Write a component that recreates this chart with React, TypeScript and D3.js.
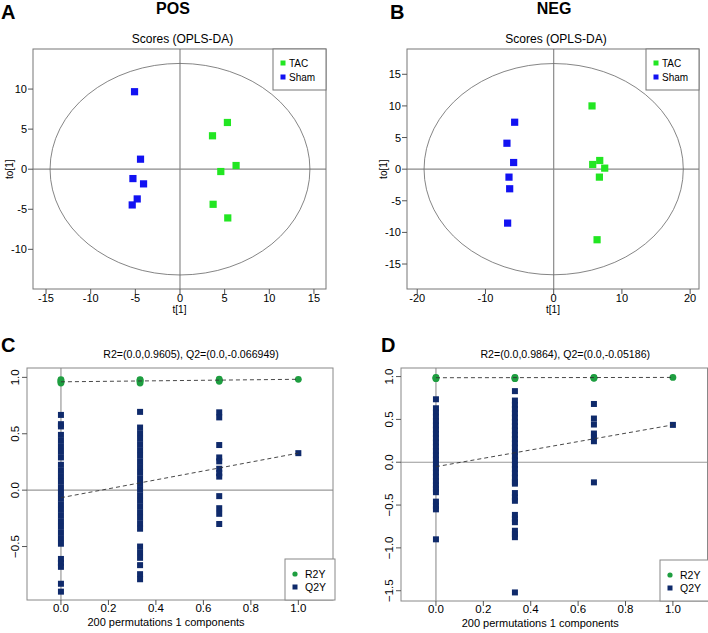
import React from 'react';
import * as d3 from 'd3';

// ---- score plot data (OPLS-DA) ----
const groups = ['TAC', 'Sham'];
const groupColors = ['#22e622', '#1212f2'];

const posTacT = [5.31, 3.64, 6.28, 4.57, 3.71, 5.35];
const posTacTo = [5.83, 4.17, 0.46, -0.29, -4.38, -6.08];
const posShamT = [-5.09, -4.42, -5.27, -4.08, -4.79, -5.35];
const posShamTo = [9.67, 1.25, -1.17, -1.83, -3.71, -4.46];

const negTacT = [5.62, 5.72, 6.75, 7.48, 6.7, 6.36];
const negTacTo = [10.0, 0.74, 1.37, 0.16, -1.26, -11.16];
const negShamT = [-5.72, -6.85, -5.87, -6.55, -6.45, -6.75];
const negShamTo = [7.42, 4.1, 1.05, -1.26, -3.1, -8.53];

const posEllipse = [14.55, 13.2];
const negEllipse = [19.0, 16.7];

const posTicksX = [-15, -10, -5, 0, 5, 10, 15];
const posTicksY = [-10, -5, 0, 5, 10];
const negTicksX = [-20, -10, 0, 10, 20];
const negTicksY = [-15, -10, -5, 0, 5, 10, 15];

// ---- permutation test data ----
const permLegend = ['R2Y', 'Q2Y'];
const permX = [0, 0.3333, 0.6667];
const permTicksX = [0, 0.2, 0.4, 0.6, 0.8, 1.0];

const posR2 = [
    [0.95, 0.96, 0.97, 0.98],
    [0.95, 0.965, 0.975, 0.98],
    [0.965, 0.975, 0.985]
];
const posQ2 = [
    [0.667, 0.585, 0.565, 0.49, 0.44, 0.39, 0.34, 0.29, 0.225, 0.175, 0.125, 0.075, 0.025, -0.025, -0.075, -0.125,
        -0.175, -0.225, -0.275, -0.325, -0.375, -0.425, -0.475, -0.61, -0.645, -0.68, -0.83, -0.9],
    [0.694, 0.555, 0.505, 0.455, 0.405, 0.355, 0.305, 0.255, 0.205, 0.155, 0.105, 0.055, 0.005, -0.045, -0.095,
        -0.145, -0.195, -0.245, -0.295, -0.342, -0.5, -0.55, -0.6, -0.665, -0.745, -0.79],
    [0.69, 0.645, 0.4, 0.29, 0.255, 0.19, 0.15, 0.12, -0.053, -0.16, -0.21, -0.3]
];
const posOrig = [0.983, 0.328];
const posIntercept = [0.9605, -0.066949];
const posPermTicksY = [-0.5, 0, 0.5, 1.0];

const negR2 = [
    [0.975, 0.985, 0.99],
    [0.975, 0.985, 0.99],
    [0.98, 0.985, 0.99]
];
const negQ2 = [
    [0.735, 0.63, 0.58, 0.53, 0.48, 0.43, 0.38, 0.33, 0.28, 0.23, 0.18, 0.13, 0.08, 0.03, -0.02, -0.07, -0.12, -0.17,
        -0.22, -0.27, -0.31, -0.35, -0.46, -0.51, -0.55, -0.9],
    [0.83, 0.72, 0.67, 0.62, 0.57, 0.52, 0.47, 0.42, 0.37, 0.32, 0.27, 0.22, 0.17, 0.12, 0.07, 0.02, -0.03, -0.08,
        -0.13, -0.18, -0.23, -0.25, -0.36, -0.41, -0.45, -0.615, -0.66, -0.7, -0.8, -0.84, -0.875, -1.52],
    [0.68, 0.51, 0.44, 0.335, 0.29, 0.245, -0.235]
];
const negOrig = [0.99, 0.436];
const negIntercept = [0.9864, -0.05186];
const negPermTicksY = [-1.5, -1.0, -0.5, 0, 0.5, 1.0];

const font = 'Liberation Sans, Arial, sans-serif';
const fmt = d3.format('.1f');

function ScorePlot(props)
{
    const { box, xDomain, yDomain, series, ellipse, ticksX, ticksY } = props;
    const x = d3.scaleLinear().domain(xDomain).range([box.left, box.right]);
    const y = d3.scaleLinear().domain(yDomain).range([box.bottom, box.top]);
    const cx = x(0), cy = y(0);
    const lx = box.right - 53;

    return (
        <g fontFamily={font}>
            <text x={(box.left + box.right) / 2 + 3} y={box.top - 6.5} fontSize={12} textAnchor="middle">Scores (OPLS-DA)</text>
            {/* zero lines */}
            <line x1={box.left} x2={box.right} y1={cy} y2={cy} stroke="#8a8a8a" strokeWidth={1.2} />
            <line x1={cx} x2={cx} y1={box.top} y2={box.bottom} stroke="#8a8a8a" strokeWidth={1.2} />
            <ellipse cx={cx} cy={cy} rx={x(ellipse[0]) - cx} ry={cy - y(ellipse[1])} fill="none" stroke="#666" strokeWidth={0.8} />
            {series.map((s, gi) => s.t.map((t, i) =>
                <rect key={gi + '-' + i} x={x(t) - 3.6} y={y(s.to[i]) - 3.6} width={7.2} height={7.2} fill={groupColors[gi]} />
            ))}
            <rect x={box.left} y={box.top} width={box.right - box.left} height={box.bottom - box.top} fill="none" stroke="#777" strokeWidth={1} />
            {/* legend */}
            <rect x={lx} y={box.top} width={53} height={41} fill="#fff" stroke="#777" strokeWidth={1} />
            {groups.map((g, i) =>
                <g key={g}>
                    <rect x={lx + 7.5} y={box.top + 11.5 + i * 14} width={5} height={5} fill={groupColors[i]} />
                    <text x={lx + 16} y={box.top + 17.5 + i * 14} fontSize={10}>{g}</text>
                </g>
            )}
            {/* axes */}
            {ticksX.map(v =>
                <g key={'x' + v}>
                    <line x1={x(v)} x2={x(v)} y1={box.bottom} y2={box.bottom + 5} stroke="#555" />
                    <text x={x(v)} y={box.bottom + 13} fontSize={11} textAnchor="middle">{v}</text>
                </g>
            )}
            {ticksY.map(v =>
                <g key={'y' + v}>
                    <line x1={box.left - 5} x2={box.left} y1={y(v)} y2={y(v)} stroke="#555" />
                    <text x={box.left - 6} y={y(v) + 4} fontSize={11} textAnchor="end">{v}</text>
                </g>
            )}
            <text x={(box.left + box.right) / 2} y={box.bottom + 24} fontSize={10} textAnchor="middle">t[1]</text>
            <text transform={`translate(${box.left - 20},${cy}) rotate(-90)`} fontSize={10} textAnchor="middle">to[1]</text>
        </g>
    );
}

function PermPlot(props)
{
    const { box, xDomain, yDomain, r2, q2, orig, intercept, ticksY, title, legendX } = props;
    const x = d3.scaleLinear().domain(xDomain).range([box.left, box.right]);
    const y = d3.scaleLinear().domain(yDomain).range([box.bottom, box.top]);
    const navy = '#0f2a6b';
    const green = '#1e9e40';

    return (
        <g fontFamily={font}>
            <text x={(box.left + box.right) / 2 + 11} y={box.top - 10.5} fontSize={10.6} textAnchor="middle">{title}</text>
            <line x1={box.left} x2={box.right} y1={y(0)} y2={y(0)} stroke="#999" strokeWidth={1.2} />
            <line x1={x(0)} x2={x(0)} y1={box.top} y2={box.bottom} stroke="#999" strokeWidth={1.2} />
            {q2.map((col, ci) => col.map((v, i) =>
                <rect key={'q' + ci + '-' + i} x={x(permX[ci]) - 3} y={y(v) - 3} width={6} height={6} fill={navy} />
            ))}
            <rect x={x(1) - 3} y={y(orig[1]) - 3} width={6} height={6} fill={navy} />
            {r2.map((col, ci) => col.map((v, i) =>
                <circle key={'r' + ci + '-' + i} cx={x(permX[ci])} cy={y(v)} r={3.4} fill={green} />
            ))}
            <circle cx={x(1)} cy={y(orig[0])} r={3.4} fill={green} />
            {/* regression lines */}
            <line x1={x(0)} x2={x(1)} y1={y(intercept[0])} y2={y(orig[0])} stroke="#333" strokeWidth={0.9} strokeDasharray="4,3" />
            <line x1={x(0)} x2={x(1)} y1={y(intercept[1])} y2={y(orig[1])} stroke="#333" strokeWidth={0.9} strokeDasharray="4,3" />
            <rect x={box.left} y={box.top} width={box.right - box.left} height={box.bottom - box.top} fill="none" stroke="#888" strokeWidth={1} />
            {/* legend */}
            <rect x={legendX} y={box.bottom - 41} width={box.right - legendX + 2} height={41} fill="#fff" stroke="#888" strokeWidth={1} />
            <circle cx={legendX + 10} cy={box.bottom - 26} r={2.6} fill={green} />
            <rect x={legendX + 7.5} y={box.bottom - 15.5} width={5} height={5} fill={navy} />
            {permLegend.map((l, i) =>
                <text key={l} x={legendX + 20} y={box.bottom - 22 + i * 13} fontSize={10.5}>{l}</text>
            )}
            {permTicksX.map(v =>
                <g key={'x' + v}>
                    <line x1={x(v)} x2={x(v)} y1={box.bottom} y2={box.bottom + 5} stroke="#555" />
                    <text x={x(v)} y={box.bottom + 12} fontSize={11.5} textAnchor="middle">{fmt(v)}</text>
                </g>
            )}
            {ticksY.map(v =>
                <g key={'y' + v}>
                    <line x1={box.left - 5} x2={box.left} y1={y(v)} y2={y(v)} stroke="#555" />
                    <text transform={`translate(${box.left - 8},${y(v)}) rotate(-90)`} fontSize={11.5} textAnchor="middle">{fmt(v)}</text>
                </g>
            )}
            <text x={(box.left + box.right) / 2 - 14} y={box.bottom + 26} fontSize={11} textAnchor="middle">200 permutations 1 components</text>
        </g>
    );
}

export default function App()
{
    return (
        <svg width={708} height={633} style={{ position: 'absolute', left: 0, top: 0, background: '#fff' }}>
            <rect width={708} height={633} fill="#fff" />
            <g fontFamily={font} fontWeight="bold">
                <text x={1} y={19} fontSize={20}>A</text>
                <text x={173} y={14} fontSize={16} textAnchor="middle">POS</text>
                <text x={390} y={19} fontSize={20}>B</text>
                <text x={554} y={14} fontSize={16} textAnchor="middle">NEG</text>
                <text x={1} y={352} fontSize={20}>C</text>
                <text x={381} y={352} fontSize={20}>D</text>
            </g>
            <ScorePlot
                box={{ left: 33, right: 326, top: 49, bottom: 289 }}
                xDomain={[-16.46, 16.35]} yDomain={[-14.95, 15.0]}
                series={[{ t: posTacT, to: posTacTo }, { t: posShamT, to: posShamTo }]}
                ellipse={posEllipse} ticksX={posTicksX} ticksY={posTicksY} />
            <ScorePlot
                box={{ left: 407, right: 699, top: 49, bottom: 289 }}
                xDomain={[-21.5, 21.3]} yDomain={[-18.95, 19.0]}
                series={[{ t: negTacT, to: negTacTo }, { t: negShamT, to: negShamTo }]}
                ellipse={negEllipse} ticksX={negTicksX} ticksY={negTicksY} />
            <PermPlot
                box={{ left: 27, right: 333, top: 368, bottom: 600 }}
                xDomain={[-0.143, 1.146]} yDomain={[-0.974, 1.083]}
                r2={posR2} q2={posQ2} orig={posOrig} intercept={posIntercept} ticksY={posPermTicksY}
                title="R2=(0.0,0.9605), Q2=(0.0,-0.066949)" legendX={285} />
            <PermPlot
                box={{ left: 401, right: 707.5, top: 368, bottom: 601 }}
                xDomain={[-0.1475, 1.146]} yDomain={[-1.62, 1.1]}
                r2={negR2} q2={negQ2} orig={negOrig} intercept={negIntercept} ticksY={negPermTicksY}
                title="R2=(0.0,0.9864), Q2=(0.0,-0.05186)" legendX={660} />
        </svg>
    );
}
